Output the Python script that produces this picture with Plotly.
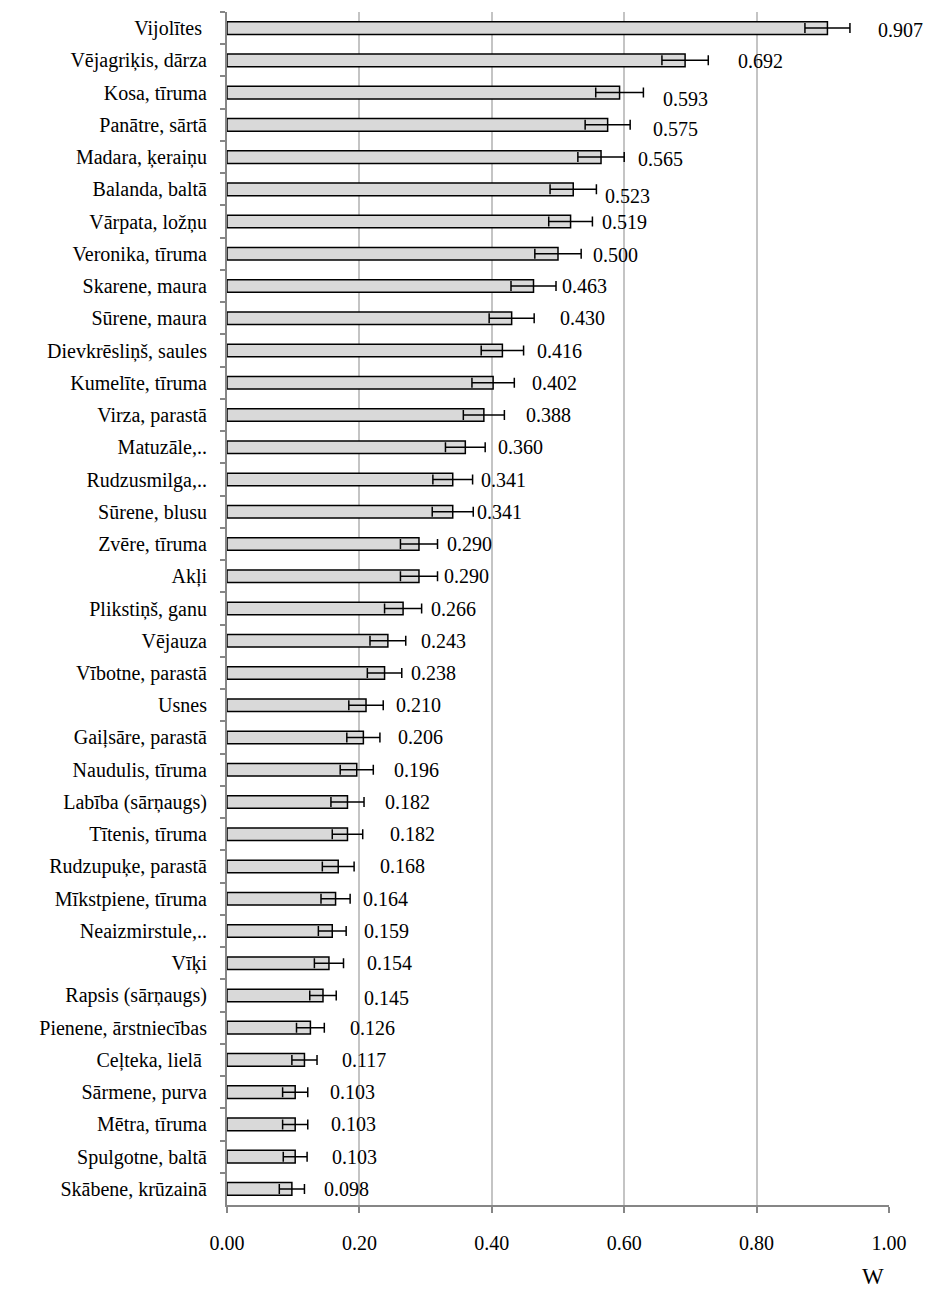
import plotly.graph_objects as go

# Species (top to bottom) and their W values with error margins
categories = [
    "Vijolītes\u00a0", "Vējagriķis, dārza", "Kosa, tīruma", "Panātre, sārtā",
    "Madara, ķeraiņu", "Balanda, baltā", "Vārpata, ložņu", "Veronika, tīruma",
    "Skarene, maura", "Sūrene, maura", "Dievkrēsliņš, saules", "Kumelīte, tīruma",
    "Virza, parastā", "Matuzāle,..", "Rudzusmilga,..", "Sūrene, blusu",
    "Zvēre, tīruma", "Akļi", "Plikstiņš, ganu", "Vējauza",
    "Vībotne, parastā", "Usnes", "Gaiļsāre, parastā", "Naudulis, tīruma",
    "Labība (sārņaugs)", "Tītenis, tīruma", "Rudzupuķe, parastā", "Mīkstpiene, tīruma",
    "Neaizmirstule,..", "Vīķi", "Rapsis (sārņaugs)", "Pienene, ārstniecības",
    "Ceļteka, lielā\u00a0", "Sārmene, purva", "Mētra, tīruma", "Spulgotne, baltā",
    "Skābene, krūzainā",
]

values = [
    0.907, 0.692, 0.593, 0.575, 0.565, 0.523, 0.519, 0.500, 0.463, 0.430,
    0.416, 0.402, 0.388, 0.360, 0.341, 0.341, 0.290, 0.290, 0.266, 0.243,
    0.238, 0.210, 0.206, 0.196, 0.182, 0.182, 0.168, 0.164, 0.159, 0.154,
    0.145, 0.126, 0.117, 0.103, 0.103, 0.103, 0.098,
]

errors = [
    0.034, 0.035, 0.036, 0.034, 0.035, 0.035, 0.033, 0.035, 0.034, 0.034,
    0.032, 0.032, 0.031, 0.030, 0.030, 0.031, 0.028, 0.028, 0.028, 0.027,
    0.026, 0.026, 0.025, 0.025, 0.025, 0.023, 0.024, 0.022, 0.021, 0.022,
    0.020, 0.021, 0.019, 0.019, 0.019, 0.018, 0.019,
]

x_ticks = [0.0, 0.2, 0.4, 0.6, 0.8, 1.0]
x_tick_labels = ["0.00", "0.20", "0.40", "0.60", "0.80", "1.00"]
x_title = "W"

# Label placement tweaks (pixels right of the error cap, pixels downward)
label_gap_px = [
    26, 28, 18, 21, 12, 7, 8, 10, 4, 24,
    11, 16, 20, 11, 6, 2, 7, 4, 7, 13,
    7, 11, 16, 19, 19, 25, 24, 11, 16, 21,
    26, 24, 23, 20, 21, 23, 18,
]
label_dy_px = [
    2, 1, 6, 4, 2, 7, 0, 1, 0, 0,
    0, 0, 0, 0, 0, 0, 0, 0, 0, 0,
    0, 0, 0, 0, 0, 0, 0, 0, 0, 0,
    3, 0, 0, 0, 0, 0, 0,
]

FONT = "Liberation Serif, Times New Roman, serif"
AXIS_GREY = "#868686"
GRID_GREY = "#c4c4c4"

fig = go.Figure()
fig.add_trace(go.Bar(
    y=categories,
    x=values,
    orientation="h",
    width=0.39,
    marker=dict(color="#d9d9d9", line=dict(color="black", width=1.5)),
    error_x=dict(type="data", array=errors, symmetric=True,
                 color="black", thickness=1.5, width=5),
    hoverinfo="x+y",
))

for cat, v, e, gap, dy in zip(categories, values, errors, label_gap_px, label_dy_px):
    fig.add_annotation(
        x=v + e, y=cat, text=f"{v:.3f}",
        xanchor="left", yanchor="middle",
        xshift=gap, yshift=-dy,
        showarrow=False,
        font=dict(family=FONT, size=20, color="black"),
    )

# Axis title placed under the right end of the value axis
fig.add_annotation(
    x=0.976, y=-0.0725, xref="paper", yref="paper",
    text=x_title, showarrow=False,
    xanchor="center", yanchor="bottom",
    font=dict(family=FONT, size=23, color="black"),
)

fig.update_layout(
    width=931, height=1293,
    margin=dict(l=227, r=42, t=12, b=88),
    paper_bgcolor="white", plot_bgcolor="white",
    font=dict(family=FONT, size=20, color="black"),
    showlegend=False,
    bargap=0.61,
)

fig.update_xaxes(
    range=[0, 1],
    tickmode="array", tickvals=x_ticks, ticktext=x_tick_labels,
    showgrid=True, gridcolor=GRID_GREY, gridwidth=1.5,
    zeroline=False,
    showline=True, linecolor=AXIS_GREY, linewidth=2,
    ticks="outside", ticklen=6, tickwidth=2, tickcolor=AXIS_GREY,
    ticklabelstandoff=13,
    tickfont=dict(family=FONT, size=20, color="black"),
)

fig.update_yaxes(
    type="category",
    categoryorder="array", categoryarray=categories,
    autorange="reversed",
    showgrid=False, zeroline=False,
    showline=True, linecolor=AXIS_GREY, linewidth=2,
    ticks="outside", ticklen=5, tickwidth=1.5, tickcolor=AXIS_GREY,
    tickson="boundaries",
    ticklabelstandoff=14,
    tickfont=dict(family=FONT, size=20, color="black"),
)

fig.write_html("out.html")
